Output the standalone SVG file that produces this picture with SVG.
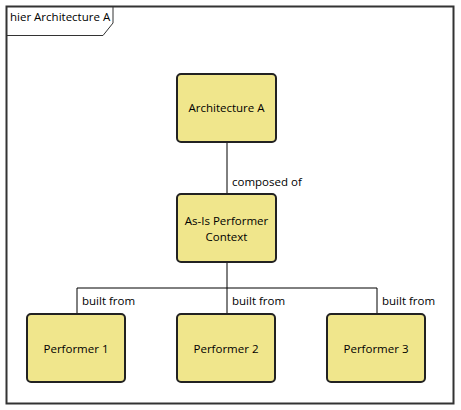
<svg xmlns="http://www.w3.org/2000/svg" width="461" height="410" viewBox="0 0 461 410">
<style>
text{font-family:"Open Sans","Noto Sans","Liberation Sans",sans-serif;font-size:11.5px;fill:#000}
.n rect{fill:#f0e68c;stroke:#222;stroke-width:2}
.c{fill:none;stroke:#000;stroke-width:1}
.lbl{text-anchor:start}
.nt{text-anchor:middle}
</style>
<rect width="461" height="410" fill="#fff"/>
<g id="frame">
<rect x="6.5" y="6.5" width="447" height="397" fill="none" stroke="#333" stroke-width="2"/>
<path d="M6.5 35.5 H103 L113 23 V6.5" fill="none" stroke="#333" stroke-width="1"/>
<text x="10" y="21">hier Architecture A</text>
</g>
<g id="connectors">
<path class="c" d="M227 142 V194"/>
<path class="c" d="M227 262 V288 M77 314 V288 H377 V314 M227 288 V314"/>
<text class="lbl" x="232" y="186">composed of</text>
<text class="lbl" x="82" y="305">built from</text>
<text class="lbl" x="232" y="305">built from</text>
<text class="lbl" x="382" y="305">built from</text>
</g>
<g id="arch" class="n"><rect x="177" y="74" width="99" height="68" rx="4"/><text class="nt" x="226.5" y="112">Architecture A</text></g>
<g id="context" class="n"><rect x="177" y="194" width="99" height="68" rx="4"/><text class="nt" x="226.5" y="225">As-Is Performer</text><text class="nt" x="226.5" y="241">Context</text></g>
<g id="p1" class="n"><rect x="27" y="314" width="98" height="68" rx="4"/><text class="nt" x="76" y="353">Performer 1</text></g>
<g id="p2" class="n"><rect x="177" y="314" width="98" height="68" rx="4"/><text class="nt" x="226" y="353">Performer 2</text></g>
<g id="p3" class="n"><rect x="327" y="314" width="98" height="68" rx="4"/><text class="nt" x="376" y="353">Performer 3</text></g>
</svg>
